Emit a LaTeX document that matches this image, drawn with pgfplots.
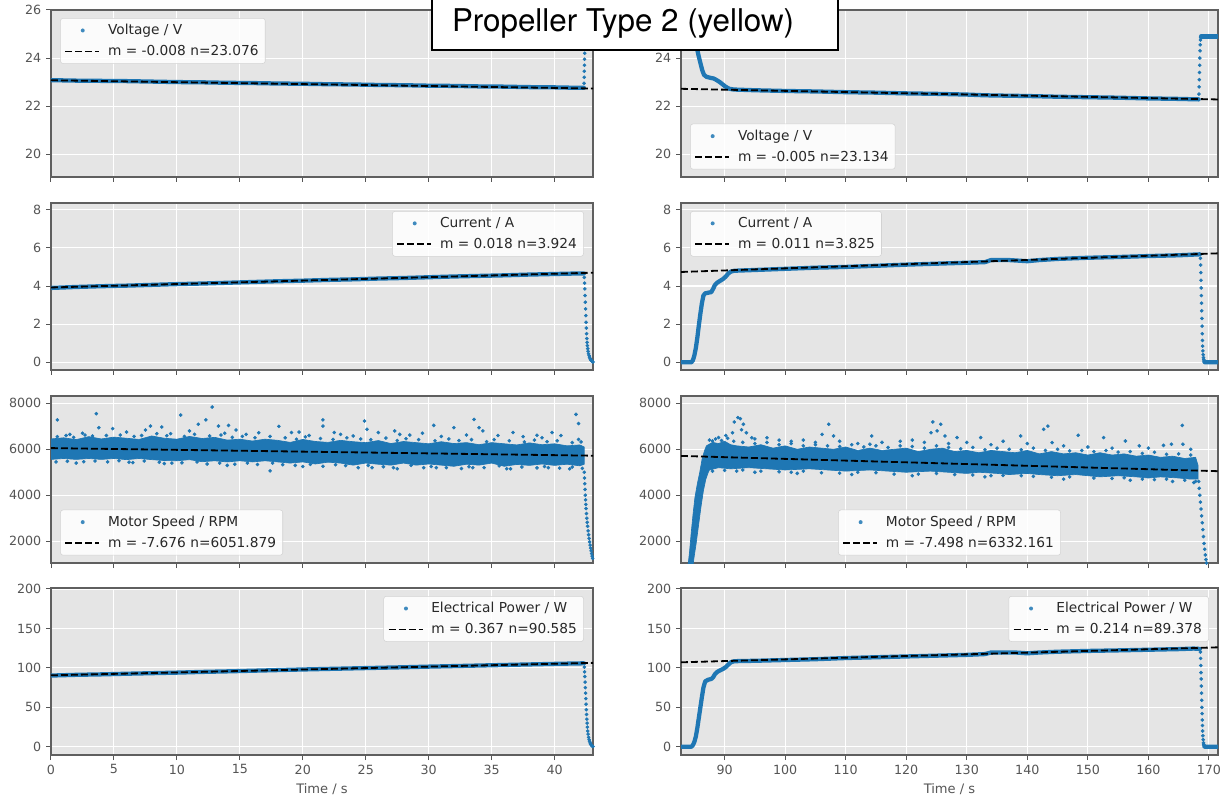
\documentclass[border=0pt]{standalone}
\usepackage{pgfplots}
\pgfplotsset{compat=1.18}
\usepackage{fontspec}
\setmainfont{DejaVu Sans}
\newfontfamily\titlefont{TeX Gyre Heros}
\definecolor{c0}{RGB}{31,119,180}
\definecolor{bg}{RGB}{229,229,229}
\definecolor{tickc}{RGB}{85,85,85}
\definecolor{spinec}{RGB}{95,95,95}
\definecolor{legc}{RGB}{40,40,40}
\definecolor{legd}{RGB}{210,210,210}
\pgfplotsset{
 base/.style={scale only axis, height=125.25pt,
  axis background/.style={fill=bg},
  axis line style={spinec, line width=0.9pt},
  xmajorgrids, ymajorgrids, major grid style={white, line width=0.8pt},
  tick align=outside, tick pos=left, major tick length=3.75pt,
  tick style={tickc, line width=0.75pt},
  tick label style={font=\fontsize{9.5}{10}\selectfont, text=tickc},
  /pgf/number format/assume math mode=true,
  /pgf/number format/1000 sep={},
  scaled ticks=false,
  legend cell align=left,
  legend style={font=\fontsize{10.3}{12}\selectfont, text=legc, fill=white, fill opacity=0.85, text opacity=1, draw=legd, rounded corners=2pt, inner xsep=3pt, inner ysep=2.5pt, row sep=2.5pt},
  xlabel style={font=\fontsize{9.8}{11}\selectfont, text=tickc},
 },
 lcol/.style={base, width=406.5pt, xmin=0, xmax=43.05, xtick={0,5,...,40}},
 rcol/.style={base, width=402.75pt, xmin=82.8, xmax=171.5, xtick={90,100,...,170}},
 nox/.style={xticklabels={}},
 r1/.style={ymin=19.05, ymax=26, ytick={20,22,24,26}},
 r2/.style={ymin=-0.4, ymax=8.35, ytick={0,2,4,6,8}},
 r3/.style={ymin=1050, ymax=8320, ytick={2000,4000,6000,8000}},
 r4/.style={ymin=-10.4, ymax=201.25, ytick={0,50,100,150,200}},
 dense/.style={c0, line width=3.2pt, line join=round, line cap=round, forget plot},
 dots/.style={only marks, mark=*, mark size=1.15pt, c0, mark options={draw=c0, fill=c0}, forget plot},
 fit/.style={black, line width=1.35pt, dash pattern=on 5.2pt off 2.3pt, forget plot},
 band/.style={fill=c0, draw=c0, line width=0.5pt, forget plot},
 ul/.style={legend style={at={(0.017,0.952)}, anchor=north west}},
 ll/.style={legend style={at={(0.017,0.045)}, anchor=south west}},
 ur/.style={legend style={at={(0.983,0.952)}, anchor=north east}},
 lc/.style={legend style={at={(0.5,0.045)}, anchor=south}},
}
\newcommand{\dotimg}{\addlegendimage{legend image code/.code={\path[draw=none, fill=none] (0pt,-0.1pt) rectangle (30pt,0.1pt); \fill[c0, draw=none] (13pt,0pt) circle (1.5pt);}}}
\newcommand{\dashimg}{\addlegendimage{legend image code/.code={\path[draw=none, fill=none] (0pt,-0.1pt) rectangle (30pt,0.1pt); \draw[black, line width=1.4pt, dash pattern=on 5.2pt off 2.3pt] (0pt,0pt) -- (25.5pt,0pt);}}}
\begin{document}
\begin{tikzpicture}
\useasboundingbox (0,0) rectangle (915pt,600pt);

% ===== Row 1 left: Voltage =====
\begin{axis}[lcol, r1, nox, ul, at={(38.25pt,467.25pt)}, anchor=south west]
\dotimg\addlegendentry{Voltage / V}
\dashimg\addlegendentry{m = -0.008 n=23.076}
\addplot[dense] coordinates {(0,23.08)(2,23.06)(4,23.05)(6,23.04)(8,23.02)(10,23.00)(12,22.99)(14,22.97)(16,22.96)(18,22.94)(20,22.93)(22,22.91)(24,22.90)(26,22.88)(28,22.87)(30,22.85)(32,22.84)(34,22.82)(36,22.81)(38,22.79)(40,22.78)(42,22.76)(42.33,22.76)};
\addplot[dots] coordinates {(42.34,22.95)(42.35,23.2)(42.36,23.45)(42.37,23.7)(42.38,23.95)(42.39,24.2)(42.40,24.45)(42.41,24.7)(42.42,24.95)(42.43,25.2)(42.44,25.45)(42.45,25.7)(42.46,25.95)(42.47,26.2)};
\addplot[fit] coordinates {(0,23.076)(43.05,22.732)};
\end{axis}

% ===== Row 1 right: Voltage =====
\begin{axis}[rcol, r1, nox, ll, yticklabels={20,22,24,{}}, at={(510.75pt,467.25pt)}, anchor=south west]
\dotimg\addlegendentry{Voltage / V}
\dashimg\addlegendentry{m = -0.005 n=23.134}
\addplot[dense] coordinates {(82.8,25.1)(84.5,25.1)(84.8,25.0)(85.1,24.75)(85.4,24.45)(85.7,24.1)(86.0,23.8)(86.3,23.5)(86.6,23.3)(87.0,23.22)(87.6,23.18)(88.2,23.15)(88.7,23.08)(89.2,23.0)(89.7,22.9)(90.2,22.8)(90.8,22.72)(91.5,22.69)(95,22.66)(100,22.63)(105,22.61)(110,22.58)(115,22.56)(120,22.53)(125,22.51)(130,22.48)(133,22.45)(135,22.44)(140,22.42)(145,22.39)(150,22.37)(155,22.35)(160,22.32)(165,22.30)(168.3,22.28)};
\addplot[dots] coordinates {(168.35,22.5)(168.38,22.8)(168.41,23.1)(168.44,23.4)(168.47,23.7)(168.50,24.0)(168.53,24.3)(168.56,24.55)(168.60,24.75)(168.65,24.85)};
\addplot[dense] coordinates {(168.7,24.9)(171.5,24.9)};
\addplot[fit] coordinates {(82.8,22.720)(171.5,22.277)};
\end{axis}

% ===== Row 2 left: Current =====
\begin{axis}[lcol, r2, nox, ur, at={(38.25pt,322.5pt)}, anchor=south west]
\dotimg\addlegendentry{Current / A}
\dashimg\addlegendentry{m = 0.018 n=3.924}
\addplot[dense] coordinates {(0,3.90)(2,3.95)(4,3.99)(6,4.02)(8,4.06)(10,4.10)(12,4.13)(14,4.17)(16,4.21)(18,4.25)(20,4.28)(22,4.32)(24,4.35)(26,4.39)(28,4.42)(30,4.46)(32,4.50)(34,4.53)(36,4.56)(38,4.60)(40,4.63)(42,4.66)(42.33,4.66)};
\addplot[dots] coordinates {(42.36,4.45)(42.38,4.15)(42.40,3.85)(42.42,3.5)(42.44,3.15)(42.46,2.8)(42.48,2.45)(42.50,2.1)(42.52,1.8)(42.54,1.5)(42.56,1.25)(42.58,1.05)(42.60,0.88)(42.63,0.72)(42.66,0.58)(42.70,0.45)(42.74,0.35)(42.78,0.27)(42.82,0.2)(42.86,0.15)(42.90,0.11)(42.95,0.07)(43.0,0.04)(43.05,0.02)};
\addplot[fit] coordinates {(0,3.924)(43.05,4.699)};
\end{axis}

% ===== Row 2 right: Current =====
\begin{axis}[rcol, r2, nox, ul, at={(510.75pt,322.5pt)}, anchor=south west]
\dotimg\addlegendentry{Current / A}
\dashimg\addlegendentry{m = 0.011 n=3.825}
\addplot[dense] coordinates {(82.8,0.0)(84.5,0.0)(84.75,0.1)(85.0,0.35)(85.25,0.75)(85.5,1.3)(85.75,1.95)(86.0,2.55)(86.25,3.1)(86.5,3.5)(86.8,3.62)(87.3,3.65)(87.8,3.68)(88.1,3.85)(88.4,4.05)(88.8,4.18)(89.3,4.28)(89.8,4.38)(90.2,4.5)(90.6,4.65)(91.0,4.75)(91.6,4.8)(95,4.84)(100,4.9)(105,4.96)(110,5.0)(115,5.06)(120,5.12)(125,5.17)(130,5.22)(133,5.25)(134,5.36)(137,5.36)(140,5.3)(142,5.36)(145,5.42)(150,5.48)(155,5.52)(160,5.57)(165,5.61)(168.5,5.66)};
\addplot[dots] coordinates {(168.6,5.45)(168.63,5.1)(168.66,4.7)(168.69,4.3)(168.72,3.9)(168.75,3.5)(168.78,3.1)(168.81,2.7)(168.84,2.3)(168.87,1.9)(168.90,1.5)(168.93,1.15)(168.96,0.85)(169.0,0.6)(169.05,0.4)(169.1,0.25)(169.15,0.15)(169.2,0.08)};
\addplot[dense] coordinates {(169.25,0.03)(169.4,0.0)(171.5,0.0)};
\addplot[fit] coordinates {(82.8,4.736)(171.5,5.712)};
\end{axis}

% ===== Row 3 left: Motor speed =====
\begin{axis}[lcol, r3, nox, ll, at={(38.25pt,177.75pt)}, anchor=south west]
\dotimg\addlegendentry{Motor Speed / RPM}
\dashimg\addlegendentry{m = -7.676 n=6051.879}
\addplot[band] coordinates {(0,6450)(1,6500)(2,6420)(3,6550)(4,6450)(5,6530)(6,6480)(7,6430)(8,6580)(9,6480)(10,6440)(11,6560)(12,6470)(13,6520)(14,6400)(15,6440)(16,6360)(17,6440)(18,6390)(19,6300)(20,6430)(21,6340)(22,6300)(23,6390)(24,6330)(25,6290)(26,6380)(27,6250)(28,6340)(29,6290)(30,6240)(31,6330)(32,6250)(33,6290)(34,6200)(35,6290)(36,6240)(37,6190)(38,6280)(39,6200)(40,6240)(41,6150)(42,6190)(42.35,6100)
(42.35,5350)(42,5280)(41,5350)(40,5300)(39,5360)(38,5300)(37,5340)(36,5260)(35,5400)(34,5310)(33,5350)(32,5260)(31,5310)(30,5360)(29,5310)(28,5400)(27,5310)(26,5350)(25,5400)(24,5310)(23,5400)(22,5440)(21,5360)(20,5450)(19,5400)(18,5450)(17,5500)(16,5450)(15,5500)(14,5450)(13,5500)(12,5460)(11,5550)(10,5500)(9,5510)(8,5550)(7,5600)(6,5550)(5,5600)(4,5560)(3,5600)(2,5560)(1,5600)(0,5560)} -- cycle;
\addplot[dots] coordinates {(0.5,7280)(3.6,7550)(3.8,6940)(4.9,6900)(7.5,6840)(7.9,7010)(8.8,6970)(10.3,7490)(11.7,7090)(12.3,7280)(12.8,7840)(13.3,7010)(14.1,7040)(14.7,6840)(17.4,5060)(18.1,7000)(19.1,6730)(19.7,6750)(21.6,7280)(21.6,7010)(22.5,6730)(24.9,7230)(25.1,6870)(26.0,6730)(27.3,6800)(27.7,6650)(30.4,7040)(30.6,5200)(32.0,6940)(33.6,7300)(34.0,6940)(34.3,6800)(36.7,6730)(38.6,6610)(39.8,6730)(41.7,7520)(41.9,7120)(41.9,6430)
(1.5,6650)(2.5,6700)(6,6750)(9.5,6680)(11,6800)(13.8,6700)(15.5,6650)(16.5,6720)(20.5,6600)(23,6650)(24,6580)(28.5,6620)(29.5,6700)(31,6560)(33,6620)(35.5,6600)(37.5,6550)(39,6500)(40.5,6600)
(2,5400)(6.5,5420)(9,5380)(14,5300)(20,5250)(25.5,5200)(27.5,5150)(33.5,5200)(36.5,5150)(39.5,5200)(41.2,5150)
(0.5,6550)(1.2,6600)(1.8,6520)(2.7,6620)(3.3,6580)(4.4,6600)(5.5,6620)(6.6,6560)(7.2,6600)(8.4,6680)(9.2,6590)(10.6,6560)(11.4,6650)(12.6,6580)(13.5,6620)(14.4,6520)(15.2,6560)(16.2,6500)(17.4,6560)(18.6,6500)(19.5,6440)(20.2,6540)(21.4,6470)(22.4,6430)(23.5,6500)(24.6,6450)(25.4,6420)(26.6,6490)(27.5,6380)(28.2,6460)(29.2,6420)(30.5,6370)(31.6,6450)(32.4,6380)(33.4,6420)(34.6,6330)(35.2,6420)(36.4,6370)(37.6,6320)(38.4,6400)(39.4,6330)(40.2,6370)(41.4,6290)(42.1,6320)
(0.4,5450)(1.3,5480)(2.6,5460)(3.5,5490)(4.5,5450)(5.4,5500)(6.2,5440)(7.4,5490)(8.6,5440)(9.6,5400)(10.4,5410)(11.6,5450)(12.4,5360)(13.4,5400)(14.6,5350)(15.6,5400)(16.4,5340)(17.6,5400)(18.4,5330)(19.4,5300)(20.6,5340)(21.6,5260)(22.6,5330)(23.4,5290)(24.4,5200)(25.2,5300)(26.4,5240)(27.2,5200)(28.6,5300)(29.6,5200)(30.2,5250)(31.4,5200)(32.6,5160)(33.2,5240)(34.4,5200)(35.6,5280)(36.2,5150)(37.4,5230)(38.6,5190)(39.2,5250)(40.4,5180)(41.4,5230)(42.2,5170)};
\addplot[dots] coordinates {(42.36,5000)(42.38,4750)(42.40,4500)(42.42,4250)(42.44,4000)(42.46,3800)(42.48,3600)(42.50,3420)(42.53,3200)(42.56,3000)(42.59,2820)(42.62,2650)(42.66,2450)(42.70,2280)(42.74,2120)(42.78,1970)(42.82,1830)(42.86,1700)(42.90,1580)(42.94,1460)(42.98,1350)(43.02,1250)(43.06,1150)};
\addplot[fit] coordinates {(0,6051.879)(43.05,5721.4)};
\end{axis}

% ===== Row 3 right: Motor speed =====
\begin{axis}[rcol, r3, nox, lc, at={(510.75pt,177.75pt)}, anchor=south west]
\dotimg\addlegendentry{Motor Speed / RPM}
\dashimg\addlegendentry{m = -7.498 n=6332.161}
\addplot[band] coordinates {(83.9,800)(84.2,1500)(84.5,2400)(84.8,3200)(85.1,3900)(85.5,4500)(85.9,5000)(86.3,5600)(86.7,5950)(87,6150)(88,6300)(89,6250)(90,6350)(91,6200)(92,6150)(94,6100)(96,6200)(98,6050)(100,6150)(102,6000)(104,6100)(106,6050)(108,6000)(110,6100)(112,5950)(114,6050)(116,5950)(118,6000)(120,6050)(122,5900)(124,6000)(126,6050)(128,5900)(130,5950)(132,5850)(134,5950)(136,5900)(138,5850)(140,5950)(142,5800)(144,5900)(146,5800)(148,5850)(150,5750)(152,5850)(154,5750)(156,5800)(158,5700)(160,5750)(162,5650)(164,5700)(166,5600)(167.8,5650)(168.2,5300)
(168.2,4700)(167,4700)(165,4750)(162,4800)(160,4750)(158,4800)(155,4850)(152,4800)(150,4850)(148,4900)(145,4850)(142,4900)(140,4950)(137,4900)(135,4950)(132,5000)(130,4950)(127,5000)(124,5050)(120,5000)(117,5050)(114,5100)(110,5050)(107,5100)(104,5150)(100,5100)(97,5150)(94,5200)(91,5150)(89,5200)(87.5,5100)(87.3,5000)(86.9,4700)(86.5,4200)(86.1,3500)(85.7,2700)(85.3,1900)(84.9,1200)(84.7,800)} -- cycle;
\addplot[dots] coordinates {(91.6,7190)(92.2,7380)(92.6,7330)(93.1,7090)(93.6,6720)(91.3,6720)(89.0,6510)(88.0,6360)(90.2,6600)(92.8,6850)(94.5,6500)(107.2,7090)(106.1,6650)(108.0,6580)(114.3,6580)(114.0,6220)(124.4,7190)(125.7,7090)(124.1,6720)(125.1,6800)(126.4,6580)(128.4,6510)(132.3,6510)(138.9,6580)(142.7,6870)(143.4,7010)(144.1,6290)(148.4,6610)(152.6,6510)(156.2,6360)(158.5,6150)(162.5,6170)(163.8,6220)(165.6,7040)(165.7,6220)
(95,6450)(97,6500)(99,6400)(101,6350)(103,6400)(105,6300)(109,6350)(112,6250)(116,6300)(119,6350)(121,6400)(123,6300)(127,6250)(130,6300)(134,6200)(136,6350)(140,6250)(146,6150)(150,6100)(154,6050)(160,6050)(167,6000)
(95,5000)(102,4950)(111,4900)(121,4850)(133,4800)(146,4700)(157,4650)(164,4600)(167.5,4550)
(87.5,6400)(88.5,6450)(89.5,6380)(90.5,6480)(91.5,6350)(93,6300)(95,6250)(97,6300)(99,6200)(101,6250)(103,6150)(105,6200)(107,6150)(109,6120)(111,6200)(113,6100)(115,6150)(117,6080)(119,6150)(121,6120)(123,6050)(125,6150)(127,6080)(129,6020)(131,6080)(133,5980)(135,6050)(137,6000)(139,5980)(141,6050)(143,5950)(145,6000)(147,5930)(149,5950)(151,5900)(153,5950)(155,5880)(157,5900)(159,5820)(161,5870)(163,5780)(165,5800)(167,5750)
(88,5050)(90,5080)(92,5050)(93,5100)(96,5050)(99,5020)(101,5000)(103,5050)(106,4980)(109,4960)(112,5000)(115,4980)(118,4920)(122,4920)(125,4950)(128,4900)(131,4880)(134,4850)(136,4860)(139,4850)(141,4820)(144,4780)(147,4800)(151,4750)(154,4730)(156,4760)(159,4700)(161,4680)(163,4700)(166,4650)(167.8,4600)};
\addplot[dots] coordinates {(168.3,4600)(168.4,4300)(168.5,4000)(168.6,3700)(168.7,3400)(168.8,3100)(168.9,2800)(169.0,2500)(169.1,2200)(169.2,1900)(169.3,1650)(169.4,1400)(169.5,1200)(169.6,1050)(169.7,920)};
\addplot[fit] coordinates {(82.8,5711.3)(171.5,5046.3)};
\end{axis}

% ===== Row 4 left: Power =====
\begin{axis}[lcol, r4, ur, xlabel={Time / s}, at={(38.25pt,33.75pt)}, anchor=south west]
\dotimg\addlegendentry{Electrical Power / W}
\dashimg\addlegendentry{m = 0.367 n=90.585}
\addplot[dense] coordinates {(0,90.3)(2,91.2)(4,91.8)(6,92.6)(8,93.3)(10,94.0)(12,94.9)(14,95.6)(16,96.4)(18,97.2)(20,98.0)(22,98.7)(24,99.4)(26,100.1)(28,100.8)(30,101.6)(32,102.3)(34,103.0)(36,103.7)(38,104.4)(40,105.1)(42,105.7)(42.33,105.8)};
\addplot[dots] coordinates {(42.36,101)(42.38,95)(42.40,89)(42.42,82)(42.44,75)(42.46,68)(42.48,61)(42.50,54)(42.52,47)(42.54,41)(42.56,35)(42.58,30)(42.60,25)(42.63,20)(42.66,16)(42.70,12)(42.74,9)(42.78,7)(42.82,5)(42.86,3.5)(42.90,2.5)(42.95,1.5)(43.0,0.8)(43.05,0.3)};
\addplot[fit] coordinates {(0,90.585)(43.05,106.38)};
\end{axis}

% ===== Row 4 right: Power =====
\begin{axis}[rcol, r4, ur, xlabel={Time / s}, at={(510.75pt,33.75pt)}, anchor=south west]
\dotimg\addlegendentry{Electrical Power / W}
\dashimg\addlegendentry{m = 0.214 n=89.378}
\addplot[dense] coordinates {(82.8,0)(84.5,0)(84.75,2)(85.0,6)(85.25,13)(85.5,24)(85.75,37)(86.0,50)(86.25,63)(86.5,75)(86.8,83)(87.3,85)(87.8,86)(88.1,88)(88.4,92)(88.8,95)(89.3,97)(89.8,99)(90.2,101)(90.6,104)(91.0,107)(91.6,108.5)(95,109)(100,110)(105,111)(110,112.5)(115,113.5)(120,114.5)(125,115.5)(130,116.5)(133,117.5)(134,119.5)(138,119.5)(140,118.5)(142,119.5)(145,120.5)(150,121.5)(155,122.2)(160,123)(165,123.8)(167.5,124.5)(168.5,124)};
\addplot[dots] coordinates {(168.6,120)(168.63,112)(168.66,103)(168.69,94)(168.72,86)(168.75,77)(168.78,68)(168.81,59)(168.84,50)(168.87,42)(168.90,34)(168.93,27)(168.96,20)(169.0,14)(169.05,9)(169.1,5)(169.15,3)(169.2,1.5)};
\addplot[dense] coordinates {(169.25,0.5)(169.4,0)(171.5,0)};
\addplot[fit] coordinates {(82.8,107.097)(171.5,126.079)};
\end{axis}

% ===== Title box =====
\draw[line width=1.4pt, fill=white] (324.2pt,562.5pt) rectangle (628.7pt,612pt);
\node[anchor=base west, inner sep=0pt, font=\titlefont\fontsize{23.5}{27}\selectfont] at (338.8pt,576.2pt) {Propeller Type 2 (yellow)};
\end{tikzpicture}
\end{document}
